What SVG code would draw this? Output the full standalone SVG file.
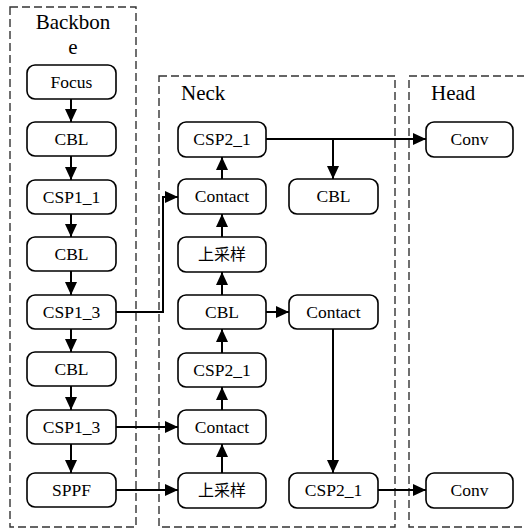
<svg xmlns="http://www.w3.org/2000/svg" width="524" height="531" viewBox="0 0 524 531">
<style>
.grp{fill:none;stroke:#333;stroke-width:1.4;stroke-dasharray:8 4}
.nd rect{fill:#fff;stroke:#000;stroke-width:1.6}
text{font-family:'Liberation Serif','Times New Roman',serif;fill:#000;text-anchor:middle}
.nd text{font-size:17.5px}
text.cn{font-family:'Noto Sans CJK SC','Noto Sans CJK JP',sans-serif;font-size:16px}
.ttl{font-size:21px}
.l{text-anchor:start}
.cn-line{fill:none;stroke:#000;stroke-width:2}
</style>
<defs>
<marker id="ah" markerUnits="userSpaceOnUse" markerWidth="14" markerHeight="12" refX="13" refY="6" orient="auto">
<path d="M0,0 L13,6 L0,12 z" fill="#000"/>
</marker>
</defs>
<g id="groups">
<rect class="grp" x="10" y="7" width="126" height="520"/>
<rect class="grp" x="159" y="76" width="236" height="451"/>
<rect class="grp" x="409" y="76" width="125" height="451"/>
<text class="ttl" x="73" y="29">Backbon</text>
<text class="ttl" x="73" y="54">e</text>
<text class="ttl l" x="181" y="100">Neck</text>
<text class="ttl l" x="431" y="100">Head</text>
</g>
<g id="connectors" class="cn-line">
<line x1="71" y1="99" x2="71" y2="122" marker-end="url(#ah)"/>
<line x1="71" y1="156" x2="71" y2="180" marker-end="url(#ah)"/>
<line x1="71" y1="214" x2="71" y2="237" marker-end="url(#ah)"/>
<line x1="71" y1="271" x2="71" y2="295" marker-end="url(#ah)"/>
<line x1="71" y1="329" x2="71" y2="352" marker-end="url(#ah)"/>
<line x1="71" y1="386" x2="71" y2="410" marker-end="url(#ah)"/>
<line x1="71" y1="444" x2="71" y2="473" marker-end="url(#ah)"/>
<polyline points="116,312 163,312 163,197 178,197" marker-end="url(#ah)"/>
<line x1="116" y1="427" x2="178" y2="427" marker-end="url(#ah)"/>
<line x1="116" y1="490" x2="178" y2="490" marker-end="url(#ah)"/>
<line x1="222" y1="473" x2="222" y2="444" marker-end="url(#ah)"/>
<line x1="222" y1="410" x2="222" y2="387" marker-end="url(#ah)"/>
<line x1="222" y1="353" x2="222" y2="329" marker-end="url(#ah)"/>
<line x1="222" y1="295" x2="222" y2="272" marker-end="url(#ah)"/>
<line x1="222" y1="237" x2="222" y2="214" marker-end="url(#ah)"/>
<line x1="222" y1="179" x2="222" y2="157" marker-end="url(#ah)"/>
<line x1="266" y1="139" x2="426" y2="139" marker-end="url(#ah)"/>
<line x1="333" y1="139" x2="333" y2="179" marker-end="url(#ah)"/>
<line x1="266" y1="312" x2="289" y2="312" marker-end="url(#ah)"/>
<line x1="333" y1="329" x2="333" y2="473" marker-end="url(#ah)"/>
<line x1="378" y1="490" x2="426" y2="490" marker-end="url(#ah)"/>
</g>
<g id="bb_focus" class="nd"><rect x="27" y="65" width="89" height="34" rx="8"/><text x="71.5" y="88">Focus</text></g>
<g id="bb_cbl1" class="nd"><rect x="27" y="122" width="89" height="34" rx="8"/><text x="71.5" y="145">CBL</text></g>
<g id="bb_csp11" class="nd"><rect x="27" y="180" width="89" height="34" rx="8"/><text x="71.5" y="203">CSP1_1</text></g>
<g id="bb_cbl2" class="nd"><rect x="27" y="237" width="89" height="34" rx="8"/><text x="71.5" y="260">CBL</text></g>
<g id="bb_csp13a" class="nd"><rect x="27" y="295" width="89" height="34" rx="8"/><text x="71.5" y="318">CSP1_3</text></g>
<g id="bb_cbl3" class="nd"><rect x="27" y="352" width="89" height="34" rx="8"/><text x="71.5" y="375">CBL</text></g>
<g id="bb_csp13b" class="nd"><rect x="27" y="410" width="89" height="34" rx="8"/><text x="71.5" y="433">CSP1_3</text></g>
<g id="bb_sppf" class="nd"><rect x="27" y="473" width="89" height="34" rx="8"/><text x="71.5" y="496">SPPF</text></g>
<g id="nk_csp21a" class="nd"><rect x="178" y="122" width="88" height="35" rx="8"/><text x="222" y="145">CSP2_1</text></g>
<g id="nk_contact1" class="nd"><rect x="178" y="179" width="88" height="35" rx="8"/><text x="222" y="202">Contact</text></g>
<g id="nk_up1" class="nd"><rect x="178" y="237" width="88" height="35" rx="8"/><text class="cn" x="222" y="260">上采样</text></g>
<g id="nk_cbl" class="nd"><rect x="178" y="295" width="88" height="34" rx="8"/><text x="222" y="318">CBL</text></g>
<g id="nk_csp21b" class="nd"><rect x="178" y="353" width="88" height="34" rx="8"/><text x="222" y="376">CSP2_1</text></g>
<g id="nk_contact2" class="nd"><rect x="178" y="410" width="88" height="34" rx="8"/><text x="222" y="433">Contact</text></g>
<g id="nk_up2" class="nd"><rect x="178" y="473" width="88" height="35" rx="8"/><text class="cn" x="222" y="496">上采样</text></g>
<g id="nk_cbl2" class="nd"><rect x="289" y="179" width="89" height="35" rx="8"/><text x="333.5" y="202">CBL</text></g>
<g id="nk_contact3" class="nd"><rect x="289" y="295" width="89" height="34" rx="8"/><text x="333.5" y="318">Contact</text></g>
<g id="nk_csp21c" class="nd"><rect x="289" y="473" width="89" height="35" rx="8"/><text x="333.5" y="496">CSP2_1</text></g>
<g id="hd_conv1" class="nd"><rect x="426" y="122" width="87" height="35" rx="8"/><text x="469.5" y="145">Conv</text></g>
<g id="hd_conv2" class="nd"><rect x="426" y="473" width="87" height="35" rx="8"/><text x="469.5" y="496">Conv</text></g>
</svg>
